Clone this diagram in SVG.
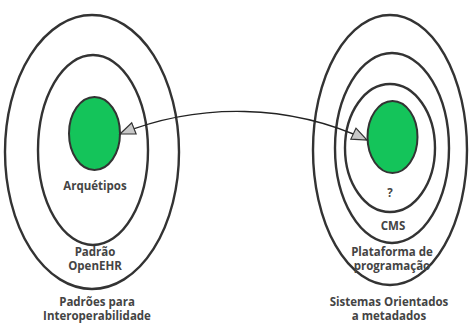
<svg xmlns="http://www.w3.org/2000/svg" width="469" height="324" viewBox="0 0 469 324">
<style>
.ring{fill:none;stroke:#333;stroke-width:2.4}
.core{fill:#14c45a;stroke:#333;stroke-width:2}
.lbl{font-family:"Open Sans","Liberation Sans",Arial,sans-serif;font-weight:bold;font-size:11.5px;fill:#444;text-anchor:middle}
.conn{fill:none;stroke:#222;stroke-width:1.3}
</style>
<defs>
<marker id="tri" markerUnits="userSpaceOnUse" markerWidth="20" markerHeight="16" refX="16" refY="7" orient="auto-start-reverse" viewBox="0 0 20 16">
<path d="M1,1 L16,7 L1,13 Z" fill="#c8c8c8" stroke="#333" stroke-width="1.2"/>
</marker>
</defs>
<rect width="469" height="324" fill="#fff"/>
<g id="padroes-interoperabilidade">
<ellipse class="ring" cx="92" cy="152" rx="87" ry="137"/>
<text class="lbl" x="97" y="306">Padrões para</text>
<text class="lbl" x="97" y="320">Interoperabilidade</text>
</g>
<g id="padrao-openehr">
<ellipse class="ring" cx="93" cy="150" rx="55" ry="95"/>
<text class="lbl" x="95" y="256">Padrão</text>
<text class="lbl" x="95" y="270">OpenEHR</text>
</g>
<g id="arquetipos">
<ellipse class="core" cx="94.5" cy="133.5" rx="25.5" ry="36.5"/>
<text class="lbl" x="95" y="190">Arquétipos</text>
</g>
<g id="sistemas-metadados">
<ellipse class="ring" cx="390" cy="150" rx="77" ry="135"/>
<text class="lbl" x="389" y="306">Sistemas Orientados</text>
<text class="lbl" x="389" y="320">a metadados</text>
</g>
<g id="plataforma">
<ellipse class="ring" cx="392" cy="148" rx="57" ry="95"/>
<text class="lbl" x="392" y="256">Plataforma de</text>
<text class="lbl" x="392" y="270">programação</text>
</g>
<g id="cms">
<ellipse class="ring" cx="390" cy="148" rx="45" ry="64"/>
<text class="lbl" x="393" y="230">CMS</text>
</g>
<g id="desconhecido">
<ellipse class="core" cx="392.5" cy="137" rx="25" ry="36"/>
<text class="lbl" x="390" y="197">?</text>
</g>
<g id="connectors">
<path class="conn" d="M120,134 C200,102 290,104 367,140" marker-start="url(#tri)" marker-end="url(#tri)"/>
</g>
</svg>
